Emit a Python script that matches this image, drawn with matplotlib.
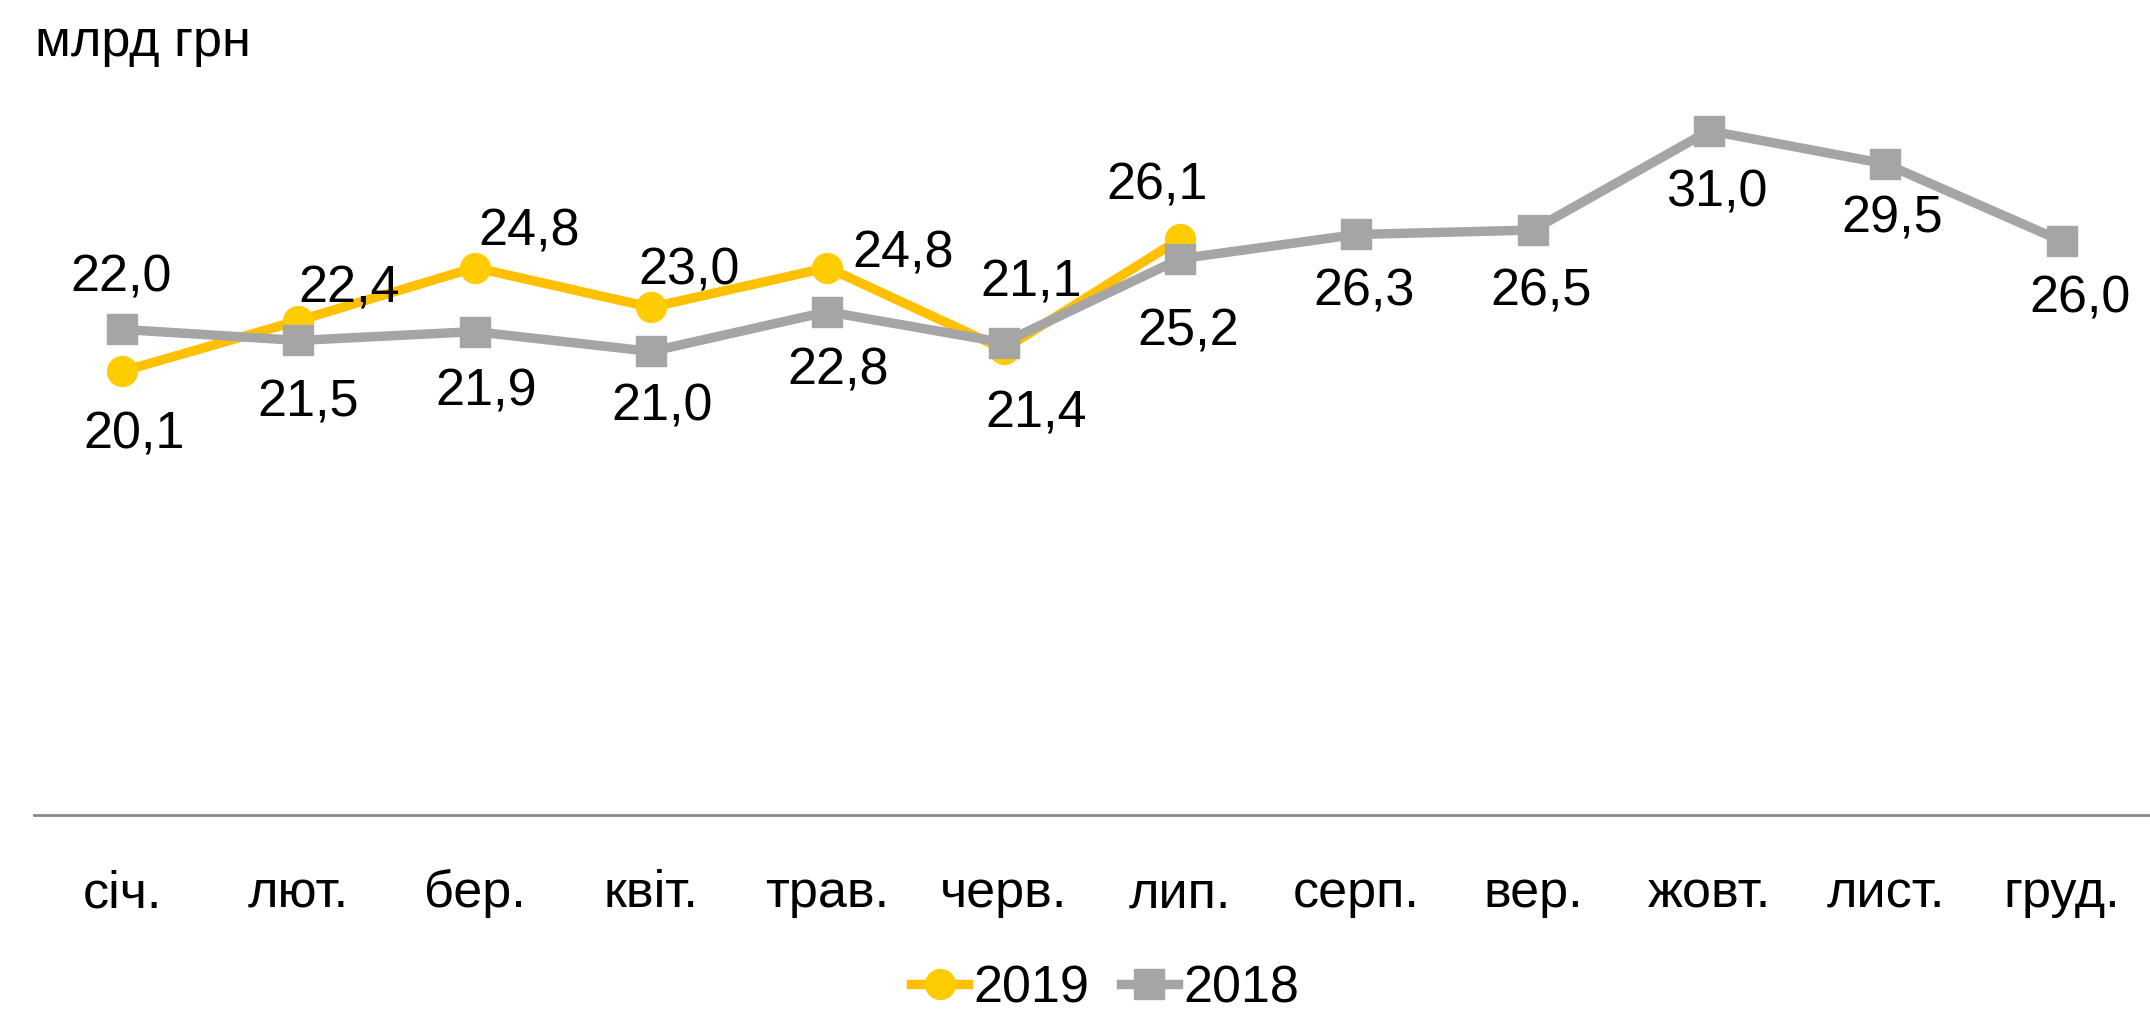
import numpy as np
import matplotlib
matplotlib.use("Agg")
import matplotlib.pyplot as plt

plt.rcParams['font.family'] = ['Liberation Sans', 'DejaVu Sans']

# Data
months = ["січ.", "лют.", "бер.", "квіт.", "трав.", "черв.", "лип.",
          "серп.", "вер.", "жовт.", "лист.", "груд."]
values_2019 = [20.1, 22.4, 24.8, 23.0, 24.8, 21.1, 26.1]
values_2018 = [22.0, 21.5, 21.9, 21.0, 22.8, 21.4, 25.2, 26.3, 26.5, 31.0, 29.5, 26.0]

# label offsets in pixels (dx, dy) relative to each point
offs_2019 = [(12, -64), (51, 32), (54, 36), (38, 36), (76, 14), (27, 66), (-23, 53)]
offs_2018 = [(-1, 51), (10, -63), (11, -60), (11, -56), (11, -59), (32, -71), (8, -73),
             (8, -58), (8, -62), (8, -62), (7, -55), (18, -58)]

yellow = "#FFC000"
yellow_face = "#FFCC00"
grey = "#A5A5A5"
fs = 37.5

fig = plt.figure(figsize=(21.5, 10.1), dpi=100)
ax = fig.add_axes([0.0158, 0.193, 0.9842, 0.765])

x19 = np.arange(len(values_2019))
x18 = np.arange(len(values_2018))
ax.plot(x19, values_2019, color=yellow, lw=6.8, marker="o", ms=21.5,
        mfc=yellow_face, mec=yellow_face, label="2019", zorder=3)
ax.plot(x18, values_2018, color=grey, lw=6.8, marker="s", ms=22,
        mfc=grey, mec=grey, label="2018", zorder=4)

for xi, v, (dx, dy) in zip(x19, values_2019, offs_2019):
    ax.annotate(f"{v:.1f}".replace(".", ","), (xi, v), xytext=(dx, dy),
                textcoords="offset pixels", ha="center", va="center", fontsize=fs, zorder=5)
for xi, v, (dx, dy) in zip(x18, values_2018, offs_2018):
    ax.annotate(f"{v:.1f}".replace(".", ","), (xi, v), xytext=(dx, dy),
                textcoords="offset pixels", ha="center", va="center", fontsize=fs, zorder=5)

ax.set_xlim(-0.5, 11.5)
ax.set_ylim(0, 35)
ax.set_xticks(x18)
ax.set_xticklabels(months, fontsize=fs)
ax.tick_params(axis="x", length=0, pad=39)
ax.set_yticks([])
for s in ["top", "right", "left"]:
    ax.spines[s].set_visible(False)
ax.spines["bottom"].set_color("#898989")
ax.spines["bottom"].set_linewidth(2)

fig.text(0.0163, 0.958, "млрд грн", fontsize=fs, ha="left", va="center")

fig.legend(loc="center", bbox_to_anchor=(0.514, 0.021), ncol=2, frameon=False,
           fontsize=fs, handlelength=1.1, handletextpad=0.1, columnspacing=0.6,
           borderpad=0)

fig.savefig("out.png", dpi=100)
